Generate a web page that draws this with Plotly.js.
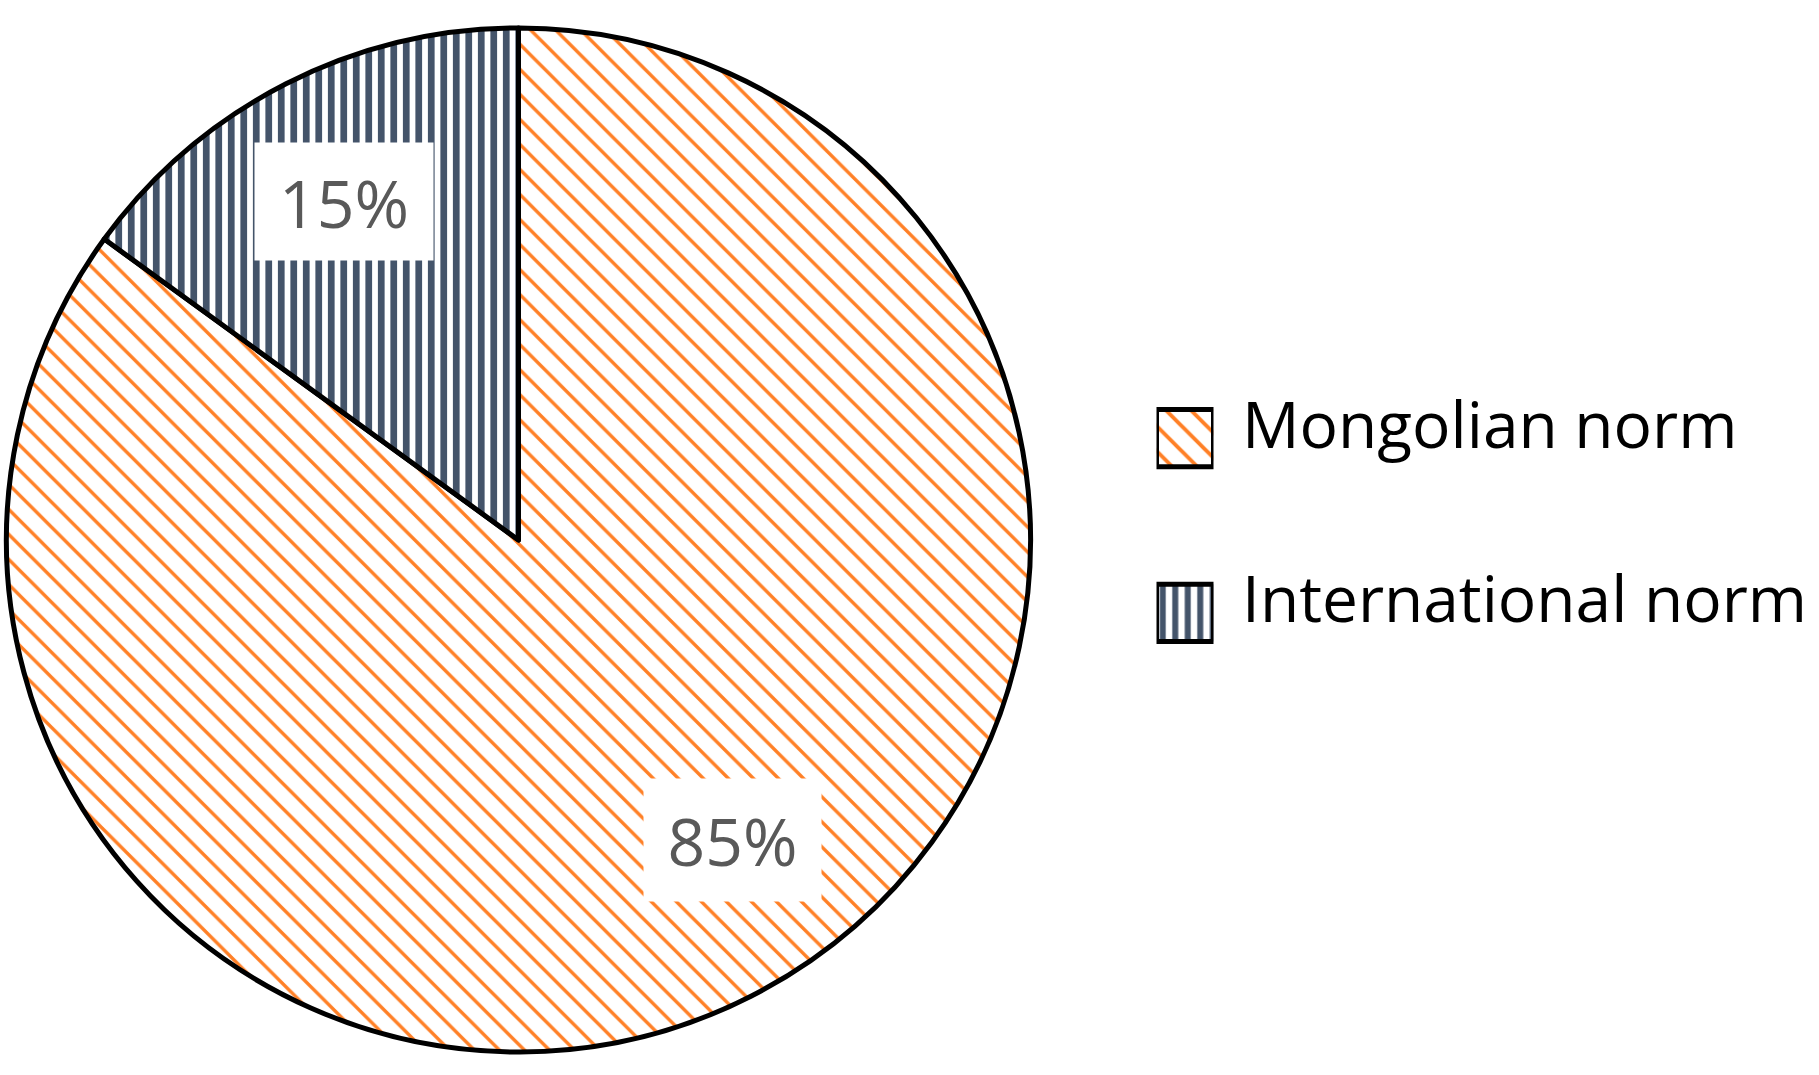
<!DOCTYPE html>
<html>
<head>
<meta charset="utf-8">
<script src="https://cdn.plot.ly/plotly-3.0.1.min.js"></script>
<style>html,body{margin:0;padding:0;background:#fff;}#chart{width:1819px;height:1075px;}</style>
</head>
<body>
<div id="chart"></div>
<script>
// ---- data ----
const categories = ["Mongolian norm", "International norm"];
const values = [85, 15];
const sliceColors = ["#FF8026", "#44546A"];
const patternShapes = ["\\", "|"];

// ---- derived label text ----
const total = values.reduce((a, b) => a + b, 0);
const pctText = values.map(v => Math.round(v / total * 100) + "%");

const W = 1819, H = 1075;
const patternSizes = [17.7, 12.5];
const patternSolidity = [0.19, 0.54];

const pie = {
  type: "pie",
  labels: categories,
  values: values,
  sort: false,
  direction: "clockwise",
  rotation: 0,
  textinfo: "none",
  hoverinfo: "label+percent",
  showlegend: false,
  domain: { x: [6.5 / W, 1030.5 / W], y: [23 / H, 1047 / H] },
  marker: {
    colors: categories.map(() => "#ffffff"),
    line: { color: "#000000", width: 5 },
    pattern: {
      shape: patternShapes,
      fgcolor: sliceColors,
      bgcolor: categories.map(() => "#ffffff"),
      size: patternSizes,
      solidity: patternSolidity,
      fillmode: "replace"
    }
  }
};

// legend swatches drawn as bars on a hidden axis
const swatch = {
  type: "bar",
  orientation: "h",
  y: categories,
  x: categories.map(() => 1),
  base: 0,
  width: 0.327,
  xaxis: "x2",
  yaxis: "y2",
  hoverinfo: "skip",
  showlegend: false,
  marker: {
    color: "#ffffff",
    line: { color: "#000000", width: 5 },
    pattern: {
      shape: patternShapes,
      fgcolor: sliceColors,
      bgcolor: categories.map(() => "#ffffff"),
      size: patternSizes,
      solidity: [0.22, 0.48],
      fillmode: "replace"
    }
  }
};

const labelFont = { family: "Open Sans, sans-serif", size: 66, color: "#595959" };
const legendFont = { family: "Open Sans, sans-serif", size: 64, color: "#000000" };

// label box centres (pixel) for each slice
const labelBoxes = [
  { cx: 732.5, cy: 840, w: 177, h: 122 },
  { cx: 344, cy: 201.5, w: 178, h: 117 }
];

const annotations = [];
categories.forEach((c, i) => {
  const b = labelBoxes[i];
  annotations.push({
    xref: "paper", yref: "paper",
    x: b.cx / W, y: 1 - b.cy / H,
    xanchor: "center", yanchor: "middle",
    text: pctText[i],
    showarrow: false,
    font: labelFont,
    bgcolor: "#ffffff",
    borderpad: 0,
    width: b.w, height: b.h,
    valign: "middle", align: "center"
  });
  annotations.push({
    xref: "x2", yref: "y2",
    x: 1, y: c,
    xanchor: "left", yanchor: "middle",
    xshift: 26, yshift: 15,
    text: c,
    showarrow: false,
    font: legendFont
  });
});

const layout = {
  width: W, height: H,
  margin: { l: 0, r: 0, t: 0, b: 0 },
  paper_bgcolor: "#ffffff",
  plot_bgcolor: "rgba(0,0,0,0)",
  showlegend: false,
  xaxis2: { domain: [1156.5 / W, 1213.5 / W], range: [0, 1], visible: false, fixedrange: true, anchor: "y2" },
  yaxis2: { domain: [1 - 700.25 / H, 1 - 350.75 / H], range: [1.5, -0.5], type: "category", visible: false, fixedrange: true, anchor: "x2" },
  annotations: annotations
};

Plotly.newPlot("chart", [pie, swatch], layout, { displayModeBar: false, staticPlot: true });
</script>
</body>
</html>
